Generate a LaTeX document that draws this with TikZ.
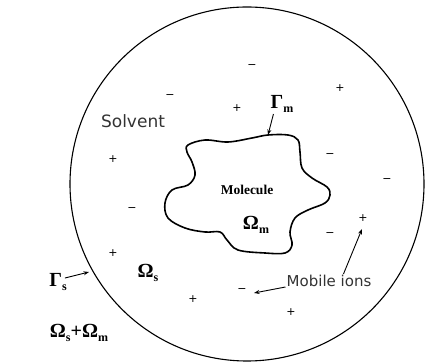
\documentclass[tikz,border=0pt]{standalone}
\usepackage{fontspec}
\setsansfont{DejaVu Sans}
\newfontfamily\symfont{Liberation Serif}
\usepackage{tikz}
\usetikzlibrary{arrows.meta}
\newcommand\lowsub[1]{\raisebox{-0.5ex}{\fontsize{12}{12}\selectfont #1}}

\begin{document}
\begin{tikzpicture}[
  x=1pt, y=-1pt, >={Stealth[length=5.5pt, width=4pt]},
  lbl/.style={font=\sffamily\fontsize{15}{15}\selectfont, text=black!80, inner sep=1pt},
  sym/.style={font=\symfont\bfseries\fontsize{20}{20}\selectfont, inner sep=1pt},
  ion/.style={font=\sffamily\fontsize{11}{11}\selectfont, inner sep=0.5pt},
  arr/.style={->, line width=0.9pt},
]
\useasboundingbox (0,0) rectangle (426,363);
% domain and molecule
\draw[line width=1.1pt] (247,184) circle[radius=177];
\draw[line width=1.6pt] plot[smooth cycle, tension=0.6] coordinates {
  (188,145) (205,140) (228,142) (252,138) (268,135) (288,135) (298,140) (300,152)
  (302,168) (312,178) (327,187) (330,195) (325,203) (308,210) (295,218) (290,232)
  (292,245) (285,253) (265,253) (238,250) (227,240) (220,232) (205,232) (185,228)
  (168,218) (165,203) (172,190) (188,185) (195,175) (192,162) (187,152)};
\coordinate (gmtip) at (268,135);
\coordinate (gstip) at (89,272);
% labels
\node[lbl, font=\sffamily\fontsize{17}{17}\selectfont] (solvent) at (133,121) {Solvent};
\node[font=\symfont\bfseries\fontsize{13.5}{13.5}\selectfont] (molecule) at (247,190) {Molecule};
\node[sym] (omegam) at (256,225) {Ω\lowsub{m}};
\node[sym] (omegas) at (148,273) {Ω\lowsub{s}};
\node[sym] (gammam) at (282,104) {Γ\lowsub{m}};
\node[sym] (gammas) at (58,282) {Γ\lowsub{s}};
\node[sym] (total) at (79,333) {Ω\lowsub{s}+Ω\lowsub{m}};
\node[lbl] (mobile) at (329,281) {Mobile ions};
% ions
\foreach \px/\py in {237/108, 340/88, 113/159, 363/218, 113/253, 193/299, 291/312}
  \node[ion] at (\px,\py) {+};
\foreach \mx/\my in {252/67, 170/97, 330/156, 387/181, 132/210, 330/235, 242/291}
  \node[ion] at (\mx,\my) {−};
\coordinate (iontip) at (362,229);
\coordinate (negtip) at (254,293);
% arrows
\draw[arr] (gammam.south west) ++(4,0) -- (gmtip);
\draw[arr] (gammas.east) ++(-3,-4) -- (gstip);
\draw[arr] (mobile.north west) ++(58,0) -- (iontip);
\draw[arr] (mobile.west) ++(0,6) -- (negtip);
\end{tikzpicture}
\end{document}
